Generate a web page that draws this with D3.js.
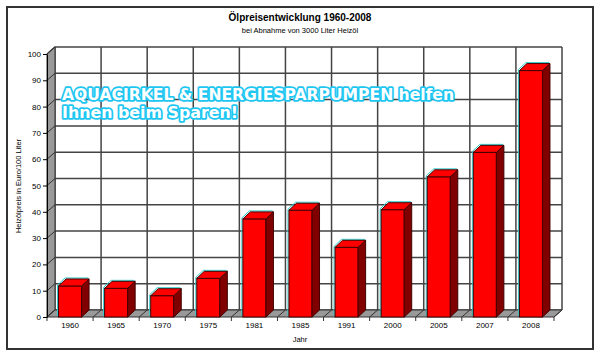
<!DOCTYPE html>
<html><head><meta charset="utf-8">
<script src="https://cdn.jsdelivr.net/npm/d3@7"></script>
<style>body{margin:0;background:#fff}svg{display:block}</style>
</head><body>
<svg id="c" width="600" height="357"></svg>
<script>
const years = ["1960","1965","1970","1975","1981","1985","1991","2000","2005","2007","2008"];
const prices = [11.8, 10.9, 8.1, 14.7, 37.3, 40.6, 26.5, 40.8, 53.3, 62.6, 93.7];
const yTicks = [0,10,20,30,40,50,60,70,80,90,100];
const title = "Ölpreisentwicklung 1960-2008";
const subtitle = "bei Abnahme von 3000 Liter Heizöl";
const xTitle = "Jahr";
const yTitle = "Heizölpreis in Euro/100 Liter";
const overlay = ["AQUACIRKEL & ENERGIESPARPUMPEN helfen", "Ihnen beim Sparen!"];

const svg = d3.select("#c");
const font = "'Liberation Sans', Arial, sans-serif";
const DX = 8, DY = -7;       // wall depth
const BX = 7.5, BY = -7;     // bar depth

const x = d3.scaleBand().domain(years).range([47, 554]).padding(0);
const y = d3.scaleLinear().domain([0, 100]).range([317, 54]);
const x0 = x.range()[0], x1 = x.range()[1];
const bw = x.bandwidth() * 0.5;

// outer frame
svg.append("rect").attr("x", 7).attr("y", 7).attr("width", 586).attr("height", 342)
  .attr("fill", "#fff").attr("stroke", "#333").attr("stroke-width", 2);

// titles
svg.append("text").attr("x", 300).attr("y", 21).attr("text-anchor", "middle")
  .attr("font-family", font).attr("font-size", 10).attr("font-weight", "bold").text(title);
svg.append("text").attr("x", 300).attr("y", 33).attr("text-anchor", "middle")
  .attr("font-family", font).attr("font-size", 7.5).text(subtitle);

const g = svg.append("g");
const line = d3.line();

// back wall
g.append("rect").attr("x", x0 + DX).attr("y", y(100) + DY)
  .attr("width", x1 - x0).attr("height", y(0) - y(100)).attr("fill", "#fff");

// horizontal gridlines on back wall and left wall
yTicks.forEach(t => {
  g.append("path").attr("d", line([[x0, y(t)], [x0 + DX, y(t) + DY], [x1 + DX, y(t) + DY]]))
    .attr("fill", "none").attr("stroke", "#444").attr("stroke-width", 1.5);
});
// vertical gridlines on back wall
const bounds = years.map(d => x(d)).concat([x1]);
bounds.forEach(b => {
  g.append("line").attr("x1", b + DX).attr("x2", b + DX)
    .attr("y1", y(100) + DY).attr("y2", y(0) + DY)
    .attr("stroke", "#444").attr("stroke-width", 1.5);
});

// left wall
g.append("path").attr("d", line([[x0, y(100)], [x0 + DX, y(100) + DY], [x0 + DX, y(0) + DY], [x0, y(0)]]) + "Z")
  .attr("fill", "#999").attr("stroke", "#333").attr("stroke-width", 1);
yTicks.forEach(t => {
  g.append("line").attr("x1", x0).attr("y1", y(t)).attr("x2", x0 + DX).attr("y2", y(t) + DY)
    .attr("stroke", "#333").attr("stroke-width", 1);
});

// floor
g.append("path").attr("d", line([[x0, y(0)], [x1, y(0)], [x1 + DX, y(0) + DY], [x0 + DX, y(0) + DY]]) + "Z")
  .attr("fill", "#999").attr("stroke", "#333").attr("stroke-width", 1);
bounds.forEach(b => {
  g.append("line").attr("x1", b).attr("y1", y(0)).attr("x2", b + DX).attr("y2", y(0) + DY)
    .attr("stroke", "#333").attr("stroke-width", 1);
  g.append("line").attr("x1", b).attr("y1", y(0)).attr("x2", b).attr("y2", y(0) + 4)
    .attr("stroke", "#333").attr("stroke-width", 1);
});

// bars
years.forEach((yr, i) => {
  const v = prices[i];
  const L = x(yr) + (x.bandwidth() - bw) / 2, R = L + bw;
  const T = y(v), B = y(0);
  const bg = g.append("g");
  // cyan halo edge
  bg.append("path").attr("d", line([[L, B], [L, T], [L + BX, T + BY], [R + BX, T + BY], [R + BX, B + BY]]))
    .attr("fill", "none").attr("stroke", "#33cccc").attr("stroke-width", 1)
    .attr("transform", "translate(-1,-1)");
  bg.append("rect").attr("x", L).attr("y", T).attr("width", bw).attr("height", B - T)
    .attr("fill", "#ff0000").attr("stroke", "#400").attr("stroke-width", 1);
  bg.append("path").attr("d", line([[R, T], [R + BX, T + BY], [R + BX, B + BY], [R, B]]) + "Z")
    .attr("fill", "#800000").attr("stroke", "#400").attr("stroke-width", 1);
  bg.append("path").attr("d", line([[L, T], [L + BX, T + BY], [R + BX, T + BY], [R, T]]) + "Z")
    .attr("fill", "#ff0000").attr("stroke", "#400").attr("stroke-width", 1);
});

// y axis
const ya = svg.append("g").attr("transform", `translate(${x0},0)`)
  .call(d3.axisLeft(y).tickValues(yTicks).tickSize(4).tickPadding(2).tickSizeOuter(0));
ya.select(".domain").attr("stroke", "#000");
ya.selectAll(".tick line").attr("stroke", "#000");
ya.selectAll("text").attr("font-family", font).attr("font-size", 8).attr("fill", "#000");

// x axis labels
const xa = svg.append("g").attr("transform", `translate(0,${y(0)})`)
  .call(d3.axisBottom(x).tickSize(0).tickPadding(5));
xa.select(".domain").remove();
xa.selectAll("text").attr("font-family", font).attr("font-size", 8).attr("fill", "#000");

// axis titles
svg.append("text").attr("x", 300).attr("y", 342).attr("text-anchor", "middle")
  .attr("font-family", font).attr("font-size", 7.5).text(xTitle);
svg.append("text").attr("transform", "translate(21,186) rotate(-90)").attr("text-anchor", "middle")
  .attr("font-family", font).attr("font-size", 7.5).text(yTitle);

// overlay advertising text
const ov = svg.append("g");
[[overlay[0], 100, 392], [overlay[1], 118, 176]].forEach(([t, by, len]) => {
  ov.append("text").attr("x", 62).attr("y", by)
    .attr("font-family", "'DejaVu Sans', sans-serif").attr("font-weight", "bold").attr("font-size", 15)
    .attr("textLength", len).attr("lengthAdjust", "spacingAndGlyphs")
    .attr("fill", "#fff").attr("stroke", "#1ec6f2").attr("stroke-width", 3.4)
    .attr("stroke-linejoin", "round").attr("paint-order", "stroke").text(t);
});
</script>
</body></html>
